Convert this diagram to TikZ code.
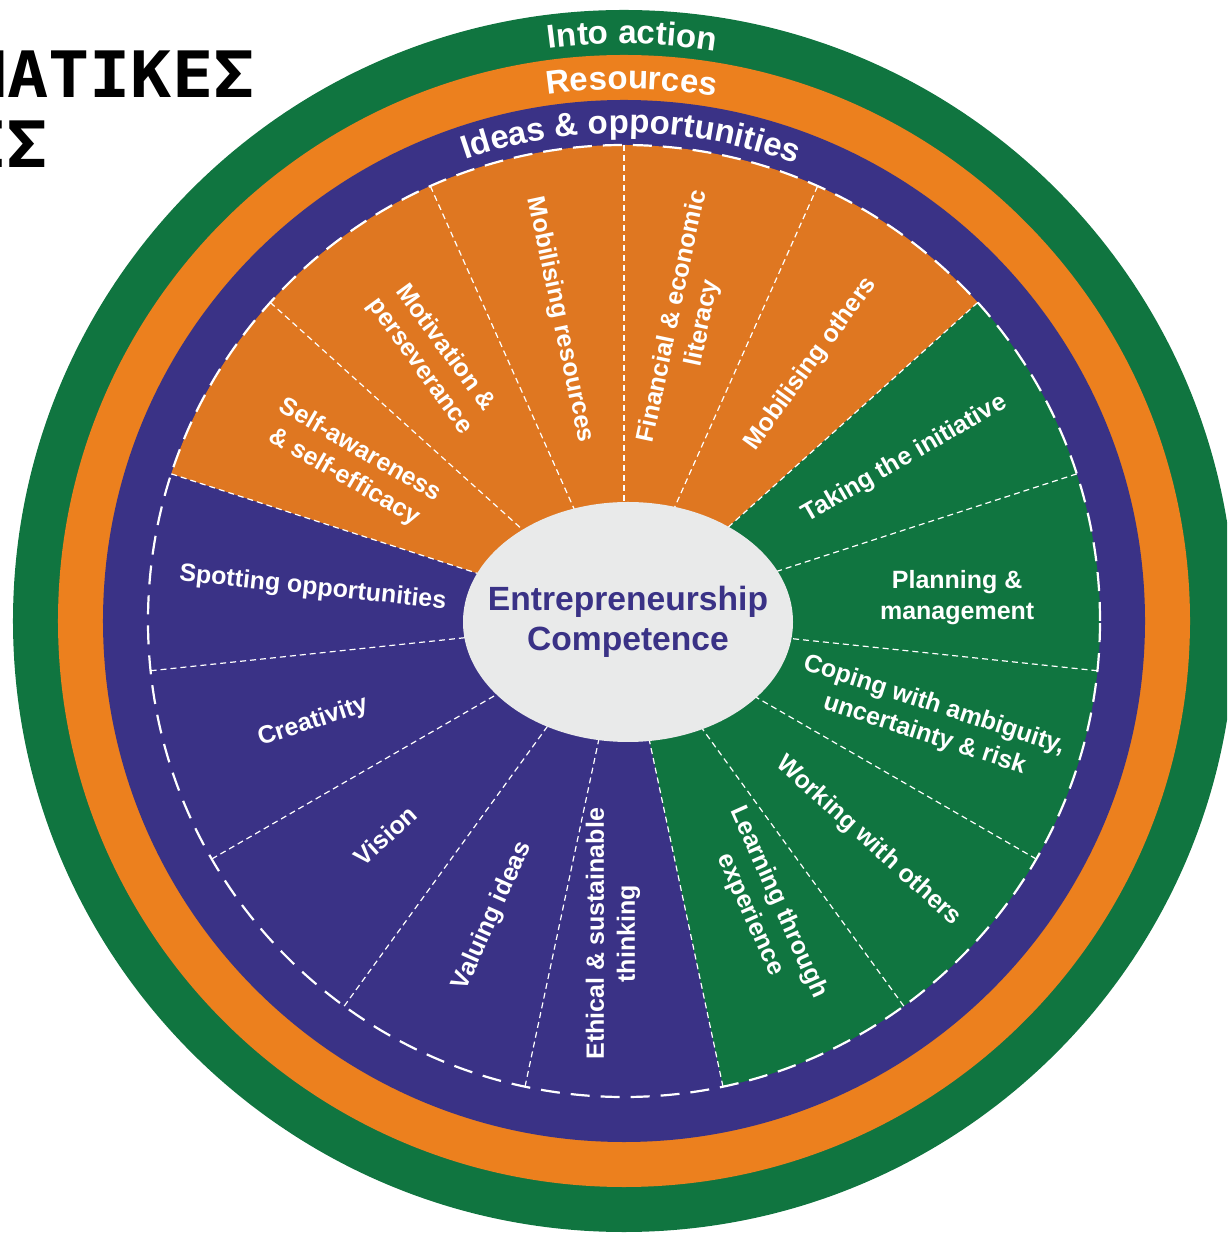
\documentclass[tikz,border=0pt]{standalone}
\usepackage{fontspec}
\setmainfont{Liberation Sans}
\newfontfamily\headfont[FakeStretch=1.07]{DejaVu Sans Mono}
\usetikzlibrary{shapes.geometric, decorations.text}
\definecolor{ringgreen}{HTML}{107540}
\definecolor{ringorange}{HTML}{EC801E}
\definecolor{sectororange}{HTML}{DF7721}
\definecolor{ringpurple}{HTML}{3A3286}
\definecolor{coregrey}{HTML}{E9EAEA}
\newcommand{\ringfont}{\color{white}\fontsize{16.5}{16.5}\selectfont\bfseries}

\begin{document}
\begin{tikzpicture}[
		x=0.5pt, y=0.5pt,
		skill/.style={text=white, align=center, inner sep=0pt, font=\fontsize{12.5}{15.5}\selectfont\bfseries},
		spoke/.style={draw=white, line width=0.6pt, dash pattern=on 3pt off 2pt},
		rim/.style={draw=white, line width=1.1pt, dash pattern=on 9.5pt off 5.5pt},
		core/.style={ellipse, fill=coregrey, minimum width=165pt, minimum height=120pt, inner sep=0pt},
		coretext/.style={text=ringpurple, align=center, inner sep=0pt, font=\fontsize{16.8}{19.8}\selectfont\bfseries},
		heading/.style={anchor=base east, inner sep=0pt, font=\headfont\bfseries\fontsize{32}{32}\selectfont},
	]
	\useasboundingbox (-624,-613) rectangle (603,621);
	\clip (-624,-613) rectangle (603,621);

	% rings
	\fill[ringgreen] (0,0) circle[radius=611];
	\fill[ringorange] (0,0) circle[radius=566];
	\fill[ringpurple] (0,0) circle[radius=521];

	% sectors
	\fill[sectororange] (0,0) -- (42:476) arc[start angle=42, end angle=162, radius=476] -- cycle;
	\fill[ringgreen] (0,0) -- (-78:476) arc[start angle=-78, end angle=42, radius=476] -- cycle;
	\draw[rim] (0,0) circle[radius=476];

	\draw[spoke] (0,0) -- (90:476);
	\draw[spoke] (0,0) -- (114:476);
	\draw[spoke] (0,0) -- (138:476);
	\draw[spoke] (0,0) -- (162:476);
	\draw[spoke] (0,0) -- (186:476);
	\draw[spoke] (0,0) -- (210:476);
	\draw[spoke] (0,0) -- (234:476);
	\draw[spoke] (0,0) -- (258:476);
	\draw[spoke] (0,0) -- (282:476);
	\draw[spoke] (0,0) -- (306:476);
	\draw[spoke] (0,0) -- (330:476);
	\draw[spoke] (0,0) -- (354:476);
	\draw[spoke] (0,0) -- (18:476);
	\draw[spoke] (0,0) -- (42:476);
	\draw[spoke] (0,0) -- (66:476);

	% centre
	\node[core] (core) at (4,-1) {};
	\node[coretext] (title) at (core.center) {Entrepreneurship\\Competence};

	% skills
	\node[skill, rotate=-78] (resources) at (102:308) {Mobilising resources};
	\node[skill, rotate=-54] (motivation) at (126:326) {Motivation \&\\perseverance};
	\node[skill, rotate=-30] (selfaware) at (150:314) {Self-awareness\\\& self-efficacy};
	\node[skill, rotate=-6] (spotting) at (174:313) {Spotting opportunities};
	\node[skill, rotate=18] (creativity) at (198:327) {Creativity};
	\node[skill, rotate=42] (vision) at (222:321) {Vision};
	\node[skill, rotate=66] (valuing) at (246:323) {Valuing ideas};
	\node[skill, rotate=90] (ethical) at (268:313) {Ethical \& sustainable\\thinking};
	\node[skill, rotate=-66] (learning) at (296:320) {Learning through\\experience};
	\node[skill, rotate=-42] (working) at (318:329) {Working with others};
	\node[skill, rotate=-18] (coping) at (342:321) {Coping with ambiguity,\\uncertainty \& risk};
	\node[skill, rotate=0] (planning) at (4:334) {Planning \&\\management};
	\node[skill, rotate=30] (initiative) at (30:324) {Taking the initiative};
	\node[skill, rotate=54] (others) at (54:318) {Mobilising others};
	\node[skill, rotate=78] (literacy) at (78:308) {Financial \& economic\\literacy};

	% ring titles
	\path[decorate, decoration={text along path, text align=center, text={|\ringfont|Into action}}]
		(149.2:577) arc[start angle=149.2, end angle=29.2, radius=577];
	\path[decorate, decoration={text along path, text align=center, text={|\ringfont|Resources}}]
		(149.2:532) arc[start angle=149.2, end angle=29.2, radius=532];
	\path[decorate, decoration={text along path, text align=center, text={|\ringfont|Ideas {\&} opportunities}}]
		(149.2:488) arc[start angle=149.2, end angle=29.2, radius=488];

	% heading, cut by the page edge
	\node[heading] (head1) at (-369,523) {ΜΑΤΙΚΕΣ};
	\node[heading] (head2) at (-576,453) {ΕΣ};
\end{tikzpicture}
\end{document}
